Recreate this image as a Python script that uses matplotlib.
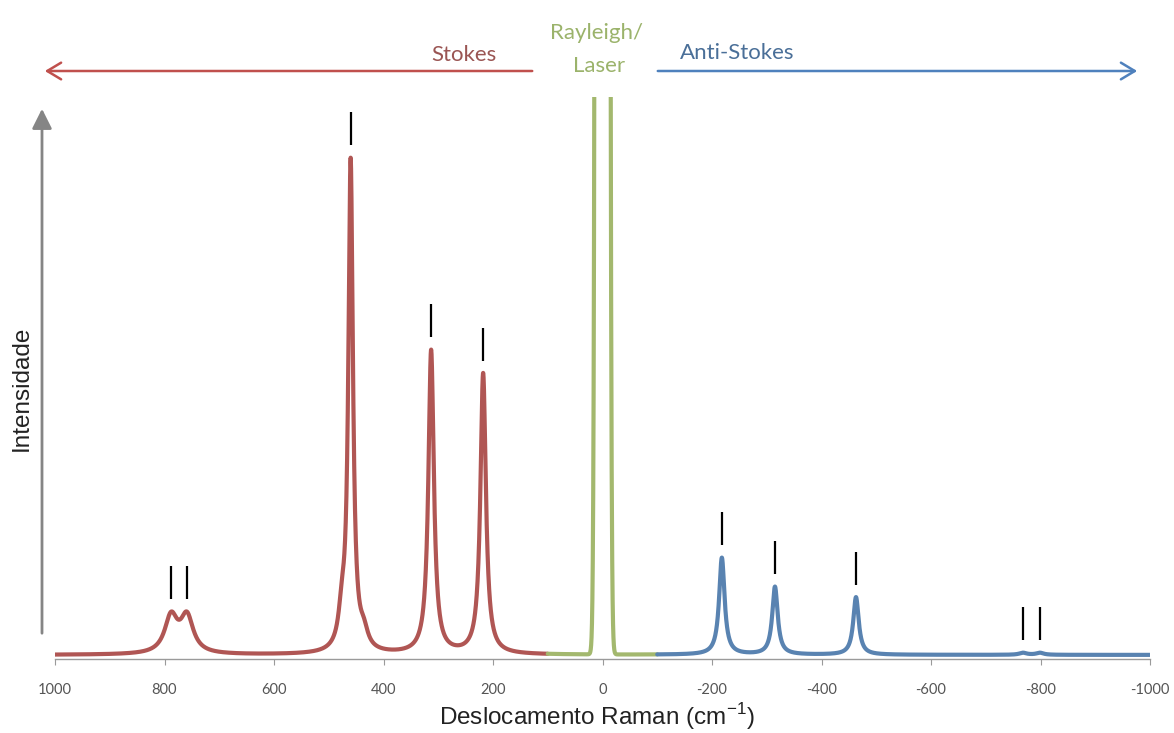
import numpy as np
import matplotlib
matplotlib.use("Agg")
import matplotlib.pyplot as plt

# Raman shift axis (cm-1) and band parameters: position, amplitude, half width
shift = np.linspace(1000, -1000, 8001)

stokes_pos = [788, 759, 476, 460, 436, 313, 218]
stokes_amp = [7.1, 7.1, 6.0, 96.0, 3.0, 59.5, 55.0]
stokes_hw = [14.0, 14.0, 7.0, 5.0, 9.0, 6.0, 6.0]

anti_pos = [-218, -315, -463, -768, -799]
anti_amp = [19.0, 13.3, 11.3, 0.4, 0.4]
anti_hw = [6.0, 6.0, 6.0, 8.0, 8.0]

laser_pos = 0.0
laser_amp = 1.0e4  # off scale
laser_sigma = 5.0

# bands that get a marker line above them
marked_pos = [788, 759, 460, 313, 218, -218, -315, -463, -768, -799]

xticks = [1000, 800, 600, 400, 200, 0, -200, -400, -600, -800, -1000]
xtick_labels = ["1000", "800", "600", "400", "200", "0",
                "-200", "-400", "-600", "-800", "-1000"]

RED = "#b05654"
GREEN = "#a3b86e"
BLUE = "#5983b1"


def lorentz(x, x0, a, g):
    return a * g ** 2 / ((x - x0) ** 2 + g ** 2)


spec = np.zeros_like(shift)
for p, a, g in zip(stokes_pos + anti_pos, stokes_amp + anti_amp, stokes_hw + anti_hw):
    spec += lorentz(shift, p, a, g)
spec += laser_amp * np.exp(-0.5 * ((shift - laser_pos) / laser_sigma) ** 2)

W, H = 1174, 733
fig = plt.figure(figsize=(W / 100, H / 100), dpi=100)


def fx(px):
    return px / W


def fy(py):
    return 1 - py / H


ax = fig.add_axes([fx(55), fy(659), fx(1150) - fx(55), fy(97) - fy(659)])
ax.set_xlim(1000, -1000)
ax.set_ylim(-0.8, 109.4)

seg_red = shift >= 100
seg_green = (shift <= 100) & (shift >= -100)
seg_blue = shift <= -100
kw = dict(lw=3.0, solid_capstyle="round", solid_joinstyle="round")
ax.plot(shift[seg_red], spec[seg_red], color=RED, **kw)
ax.plot(shift[seg_green], spec[seg_green], color=GREEN, **kw)
ax.plot(shift[seg_blue], spec[seg_blue], color=BLUE, **kw)

# marker ticks above the bands
tops = np.interp(marked_pos, shift[::-1], spec[::-1])
ax.vlines(marked_pos, tops + 2.4, tops + 8.9, color="black", lw=1.6)

for s in ["left", "right", "top"]:
    ax.spines[s].set_visible(False)
ax.spines["bottom"].set_color("#9a9a9a")
ax.spines["bottom"].set_linewidth(1.0)
ax.set_yticks([])
ax.set_xticks(xticks)
ax.set_xticklabels(xtick_labels, fontsize=10.5, family="Lato", color="#555555")
ax.tick_params(axis="x", direction="out", length=4, color="#9a9a9a", pad=13)

# x label placed directly in figure space so it stays inside the canvas
fig.text(fx(597), fy(717), "Deslocamento Raman (cm$^{\\mathregular{-1}}$)",
         ha="center", va="center", family="Liberation Sans",
         fontsize=17.5, color="#222222")

# intensity arrow and label
fig.patches.append(matplotlib.patches.FancyArrowPatch(
    (fx(42), fy(636)), (fx(42), fy(106)), transform=fig.transFigure,
    arrowstyle="-|>,head_length=0.6,head_width=0.3", mutation_scale=20,
    color="#858585", lw=2.0))
fig.text(fx(22), fy(388), "Intensidade", rotation=90, ha="center", va="center",
         family="Liberation Sans", fontsize=17.5, color="#222222")

# Stokes / anti-Stokes direction arrows
fig.patches.append(matplotlib.patches.FancyArrowPatch(
    (fx(535), fy(71)), (fx(42), fy(71)), transform=fig.transFigure,
    arrowstyle="->,head_length=0.5,head_width=0.3", mutation_scale=20,
    color="#c0504d", lw=1.8))
fig.patches.append(matplotlib.patches.FancyArrowPatch(
    (fx(655), fy(71)), (fx(1140), fy(71)), transform=fig.transFigure,
    arrowstyle="->,head_length=0.5,head_width=0.3", mutation_scale=20,
    color="#4f81bd", lw=1.8))

fig.text(fx(464), fy(55), "Stokes", ha="center", va="center",
         family="Lato", fontsize=16, color="#9a5553")
fig.text(fx(597), fy(33), "Rayleigh/", ha="center", va="center",
         family="Lato", fontsize=16, color="#9bb36b")
fig.text(fx(599), fy(66), "Laser", ha="center", va="center",
         family="Lato", fontsize=16, color="#9bb36b")
fig.text(fx(737), fy(53), "Anti-Stokes", ha="center", va="center",
         family="Lato", fontsize=16, color="#4a6f98")

fig.savefig("out.png", dpi=100, facecolor="white")
